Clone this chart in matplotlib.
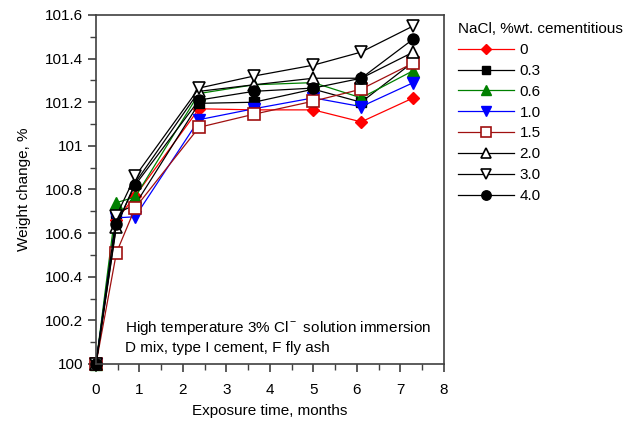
import matplotlib
matplotlib.use("Agg")
import matplotlib.pyplot as plt
from matplotlib.ticker import MultipleLocator

plt.rcParams['font.family'] = ['Liberation Sans', 'DejaVu Sans']
plt.rcParams['mathtext.fontset'] = 'custom'
plt.rcParams['mathtext.rm'] = 'Liberation Sans'

# exposure time, months
months = [0, 0.47, 0.9, 2.37, 3.63, 5.0, 6.1, 7.3]

# weight change, % for each NaCl dosage
nacl_0 = [100, 100.66, 100.77, 101.17, 101.165, 101.165, 101.11, 101.22]
nacl_03 = [100, 100.69, 100.73, 101.195, 101.20, 101.26, 101.20, 101.385]
nacl_06 = [100, 100.74, 100.765, 101.24, 101.28, 101.29, 101.22, 101.345]
nacl_10 = [100, 100.67, 100.675, 101.12, 101.17, 101.22, 101.18, 101.29]
nacl_15 = [100, 100.51, 100.715, 101.085, 101.145, 101.205, 101.26, 101.38]
nacl_20 = [100, 100.63, 100.83, 101.25, 101.28, 101.31, 101.31, 101.43]
nacl_30 = [100, 100.68, 100.86, 101.265, 101.32, 101.37, 101.43, 101.55]
nacl_40 = [100, 100.64, 100.82, 101.21, 101.25, 101.265, 101.31, 101.49]

labels = ["0", "0.3", "0.6", "1.0", "1.5", "2.0", "3.0", "4.0"]
series = [nacl_0, nacl_03, nacl_06, nacl_10, nacl_15, nacl_20, nacl_30, nacl_40]

styles = [
    dict(color='#ff0000', marker='D', mfc='#ff0000', mec='#ff0000', ms=6),
    dict(color='#000000', marker='s', mfc='#000000', mec='#000000', ms=7),
    dict(color='#008000', marker='^', mfc='#008000', mec='#008000', ms=8),
    dict(color='#0000ff', marker='v', mfc='#0000ff', mec='#0000ff', ms=8),
    dict(color='#a01010', marker='s', mfc='white', mec='#a01010', ms=8, mew=1.2),
    dict(color='#000000', marker='^', mfc='white', mec='#000000', ms=9, mew=1.2),
    dict(color='#000000', marker='v', mfc='white', mec='#000000', ms=9, mew=1.2),
    dict(color='#000000', marker='o', mfc='#000000', mec='#000000', ms=8),
]


def main():
    fig = plt.figure(figsize=(6.34, 4.21), dpi=100)
    ax = fig.add_axes([0.1514, 0.1354, 0.5486, 0.829])

    for y, lab, st in zip(series, labels, styles):
        ax.plot(months, y, lw=0.9, label=lab, clip_on=False, **st)

    ax.set_xlim(0, 8)
    ax.set_ylim(100, 101.6)
    ax.xaxis.set_major_locator(MultipleLocator(1))
    ax.xaxis.set_minor_locator(MultipleLocator(0.5))
    ax.yaxis.set_minor_locator(MultipleLocator(0.1))
    ax.set_yticks([100, 100.2, 100.4, 100.6, 100.8, 101, 101.2, 101.4, 101.6])
    ax.set_yticklabels(["100", "100.2", "100.4", "100.6", "100.8", "101",
                        "101.2", "101.4", "101.6"])

    ax.tick_params(which='major', direction='out', length=6, width=1.2,
                   color='#404040', labelsize=11, pad=3)
    ax.tick_params(axis='x', which='major', pad=8)
    ax.tick_params(which='minor', direction='out', length=4, width=1.0,
                   color='#404040')
    for s in ax.spines.values():
        s.set_color('#404040')
        s.set_linewidth(1.2)

    ax.set_xlabel("Exposure time, months", fontsize=11, labelpad=5)
    ax.set_ylabel("Weight change, %", fontsize=11, labelpad=10)

    ax.text(0.083, 0.026,
            "High temperature 3% Cl$^{\\rm -}$ solution immersion\n"
            "D mix, type I cement, F fly ash", fontsize=11,
            linespacing=1.35, va='bottom', ha='left', transform=ax.transAxes)

    leg = fig.legend(loc='upper left', bbox_to_anchor=(0.712, 0.962),
                     frameon=False, fontsize=11, title="NaCl, %wt. cementitious",
                     title_fontsize=11, handlelength=3.7, handletextpad=0.35,
                     labelspacing=0.45, alignment='left', borderaxespad=0)
    for h in leg.legend_handles:
        h.set_markersize(h.get_markersize() * 0.85)

    fig.savefig("out.png", dpi=100)


if __name__ == "__main__":
    main()
